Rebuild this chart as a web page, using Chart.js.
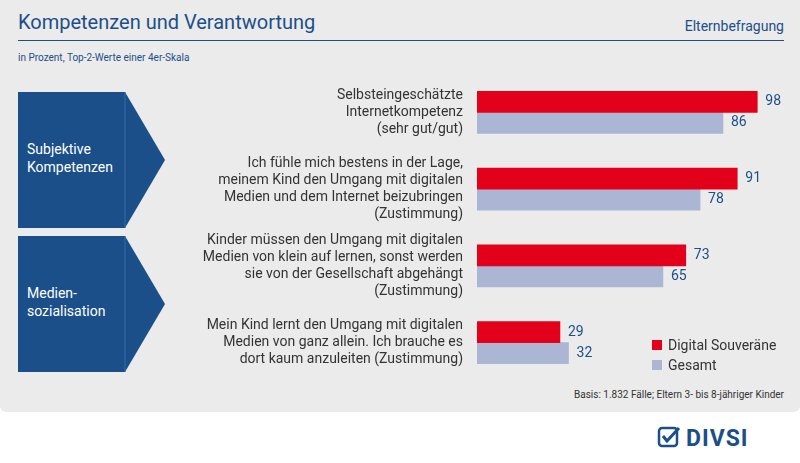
<!DOCTYPE html>
<html><head><meta charset="utf-8">
<script src="https://cdn.jsdelivr.net/npm/chart.js@4"></script>
<style>
body{margin:0;width:800px;height:463px;background:#fff;font-family:"DIN","Roboto","Liberation Sans",sans-serif;position:relative;overflow:hidden}
#panel{position:absolute;left:0;top:0;width:800px;height:412px;background:#ebebeb;border-radius:0 0 6px 6px}
.t{position:absolute;color:#1b4f8a}
canvas{position:absolute;left:0;top:0}
</style></head><body>
<div id="panel"></div>
<div class="t" style="left:18px;top:10px;font-size:20px">Kompetenzen und Verantwortung</div>
<div class="t" style="right:16px;top:18px;font-size:14px">Elternbefragung</div>
<div style="position:absolute;left:18px;top:40px;width:766px;height:1px;background:#1b4f8a"></div>
<div class="t" style="left:18px;top:52px;font-size:10px">in Prozent, Top-2-Werte einer 4er-Skala</div>
<svg style="position:absolute;left:0;top:0" width="800" height="463">
<polygon points="18,92 125,92 165,160 125,228 18,228" fill="#1b4f8a"/>
<line x1="125" y1="92" x2="125" y2="228" stroke="#3a6aa0"/>
<polygon points="18,236 125,236 165,304 125,372 18,372" fill="#1b4f8a"/>
<line x1="125" y1="236" x2="125" y2="372" stroke="#3a6aa0"/>
<text x="27" y="154" fill="#fff" font-size="14" font-family="Roboto">Subjektive</text>
<text x="27" y="172" fill="#fff" font-size="14" font-family="Roboto">Kompetenzen</text>
<text x="27" y="298" fill="#fff" font-size="14" font-family="Roboto">Medien-</text>
<text x="27" y="316" fill="#fff" font-size="14" font-family="Roboto">sozialisation</text>
<rect x="659" y="428" width="18" height="18" rx="3" fill="none" stroke="#1b4f8a" stroke-width="2.5"/>
<polyline points="663,436 667,441 679,428" fill="none" stroke="#1b4f8a" stroke-width="3"/>
<text x="686" y="446" fill="#1b4f8a" font-size="23" font-weight="bold" font-family="Roboto" letter-spacing="1">DIVSI</text>
</svg>
<div class="t" style="right:16px;top:389px;font-size:10px;color:#333">Basis: 1.832 Fälle; Eltern 3- bis 8-jähriger Kinder</div>
<canvas id="c" width="800" height="463"></canvas>
<script>
const categories=[["Selbsteingeschätzte","Internetkompetenz","(sehr gut/gut)"],
["Ich fühle mich bestens in der Lage,","meinem Kind den Umgang mit digitalen","Medien und dem Internet beizubringen","(Zustimmung)"],
["Kinder müssen den Umgang mit digitalen","Medien von klein auf lernen, sonst werden","sie von der Gesellschaft abgehängt","(Zustimmung)"],
["Mein Kind lernt den Umgang mit digitalen","Medien von ganz allein. Ich brauche es","dort kaum anzuleiten (Zustimmung)"]];
const digitalSouveraene=[98,91,73,29];
const gesamt=[86,78,65,32];
const seriesNames=["Digital Souveräne","Gesamt"];
const colors=["#e2001a","#aab6d3"];
const valueLabels={id:"vl",afterDatasetsDraw(ch){const x=ch.ctx;x.save();x.font="14px Roboto";x.fillStyle="#1b4f8a";x.textBaseline="middle";
ch.data.datasets.forEach((d,i)=>ch.getDatasetMeta(i).data.forEach((b,j)=>x.fillText(d.data[j],b.x+8,b.y)));
seriesNames.forEach((n,i)=>{x.fillStyle=colors[i];x.fillRect(652,340+i*20,10,10);x.fillStyle="#333";x.fillText(n,668,346+i*20);});x.restore();}};
new Chart(document.getElementById("c"),{type:"bar",
data:{labels:categories,datasets:[{data:digitalSouveraene,backgroundColor:colors[0]},{data:gesamt,backgroundColor:colors[1]}]},
options:{indexAxis:"y",responsive:false,animation:false,layout:{padding:{top:74,bottom:82,right:37,left:0}},
plugins:{legend:{display:false},tooltip:{enabled:false}},
datasets:{bar:{barThickness:21,grouped:true}},
scales:{x:{display:false,min:0,max:100},
y:{grid:{display:false},border:{display:false},afterFit(s){s.width=477;},ticks:{color:"#333",font:{size:14,family:"Roboto",lineHeight:1.2},padding:6}}}},
plugins:[valueLabels]});
</script></body></html>
